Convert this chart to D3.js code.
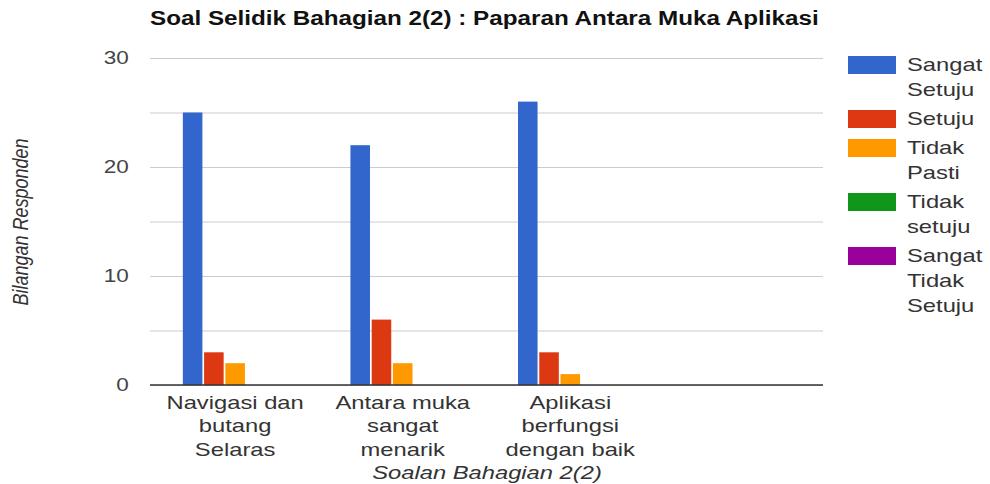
<!DOCTYPE html>
<html>
<head>
<meta charset="utf-8">
<script src="https://cdn.jsdelivr.net/npm/d3@7"></script>
<style>
  body { margin: 0; background: #fff; }
  text { font-family: "Liberation Sans", Arial, sans-serif; }
</style>
</head>
<body>
<svg width="990" height="484"></svg>
<script>
const categories = ['Navigasi dan butang Selaras', 'Antara muka sangat menarik', 'Aplikasi berfungsi dengan baik', ''];
const seriesNames = ['Sangat Setuju', 'Setuju', 'Tidak Pasti', 'Tidak setuju', 'Sangat Tidak Setuju'];
const sangatSetuju = [25, 22, 26, 0];
const setuju = [3, 6, 3, 0];
const tidakPasti = [2, 2, 1, 0];
const tidakSetuju = [0, 0, 0, 0];
const sangatTidakSetuju = [0, 0, 0, 0];
const gridTicks = [0, 5, 10, 15, 20, 25, 30];
const labelTicks = [0, 10, 20, 30];
const colors = ['#3366cc', '#dc3912', '#ff9900', '#109618', '#990099'];

const series = [sangatSetuju, setuju, tidakPasti, tidakSetuju, sangatTidakSetuju];
const SX = 1.25; // the picture is a bit wider than it is tall

const plotLeft = 150, plotRight = 823, plotTop = 58, plotBottom = 385;

const svg = d3.select('svg');

const yScale = d3.scaleLinear()
    .domain([0, 30])
    .range([plotBottom, plotTop]);

const xScale = d3.scaleBand()
    .domain(d3.range(categories.length))
    .range([plotLeft, plotRight])
    .paddingInner(0.376)
    .paddingOuter(0.196);

const xInner = d3.scaleBand()
    .domain(d3.range(seriesNames.length))
    .range([0, xScale.bandwidth()])
    .paddingInner(0.08);

// gridlines
svg.append('g')
    .attr('transform', `translate(${plotLeft}, 0)`)
    .call(d3.axisLeft(yScale)
        .tickValues(gridTicks)
        .tickSize(-(plotRight - plotLeft))
        .tickFormat(''))
    .call(g => g.select('.domain').remove())
    .call(g => g.selectAll('line').attr('stroke', '#cccccc'));

// tick labels
svg.append('g')
    .attr('transform', `translate(${plotLeft}, 0)`)
    .call(d3.axisLeft(yScale)
        .tickValues(labelTicks)
        .tickSize(0)
        .tickPadding(17))
    .call(g => g.select('.domain').remove())
    .call(g => g.selectAll('text')
        .attr('font-size', 18)
        .attr('font-family', '"Liberation Sans", Arial, sans-serif')
        .attr('fill', '#444')
        .attr('transform', `scale(${SX},1)`));

// bars
const rows = categories.map((c, i) => ({ i, values: series.map(s => s[i]) }));
const groups = svg.selectAll('g.grp')
    .data(rows)
    .enter()
    .append('g')
    .attr('class', 'grp')
    .attr('transform', d => `translate(${xScale(d.i)}, 0)`);

groups.selectAll('rect')
    .data(d => d.values.map((v, k) => ({ v, k })))
    .enter()
    .append('rect')
    .attr('x', d => xInner(d.k))
    .attr('y', d => yScale(d.v))
    .attr('width', xInner.bandwidth())
    .attr('height', d => plotBottom - yScale(d.v))
    .attr('fill', d => colors[d.k]);

// baseline
svg.append('line')
    .attr('x1', plotLeft).attr('x2', plotRight)
    .attr('y1', yScale(0)).attr('y2', yScale(0))
    .attr('stroke', '#333')
    .attr('stroke-width', 1.5);

// wraps words into lines no wider than maxW (screen px)
function wrap(str, maxW, size) {
    const probe = svg.append('text').attr('font-size', size);
    const lines = [];
    let cur = '';
    str.split(' ').forEach(w => {
        const test = cur ? cur + ' ' + w : w;
        probe.text(test);
        if (cur && probe.node().getComputedTextLength() * SX > maxW) {
            lines.push(cur);
            cur = w;
        } else {
            cur = test;
        }
    });
    if (cur) lines.push(cur);
    probe.remove();
    return lines;
}

// category labels
categories.forEach((c, i) => {
    if (!c) return;
    const lines = wrap(c, 140, 19);
    const cx = xScale(i) + xScale.bandwidth() / 2;
    lines.forEach((ln, j) => {
        svg.append('text')
            .attr('transform', `translate(${cx}, ${402 + j * 23.5}) scale(${SX},1)`)
            .attr('dy', '0.35em')
            .attr('text-anchor', 'middle')
            .attr('font-size', 19)
            .attr('fill', '#333')
            .text(ln);
    });
});

// title
svg.append('text')
    .attr('transform', `translate(${plotLeft}, 25) scale(${SX},1)`)
    .attr('font-size', 19.4)
    .attr('font-weight', 'bold')
    .attr('fill', '#111')
    .text('Soal Selidik Bahagian 2(2) : Paparan Antara Muka Aplikasi');

// axis titles
svg.append('text')
    .attr('transform', `translate(487, 472) scale(${SX},1)`)
    .attr('dy', '0.35em')
    .attr('text-anchor', 'middle')
    .attr('font-size', 19)
    .attr('font-style', 'italic')
    .attr('fill', '#333')
    .text('Soalan Bahagian 2(2)');

svg.append('text')
    .attr('transform', `translate(20, 222) scale(${SX},1) rotate(-90)`)
    .attr('dy', '0.35em')
    .attr('text-anchor', 'middle')
    .attr('font-size', 18)
    .attr('font-style', 'italic')
    .attr('fill', '#333')
    .text('Bilangan Responden');

// legend, one word per line
let ly = 64;
seriesNames.forEach((name, k) => {
    const words = name.split(' ');
    svg.append('rect')
        .attr('x', 848).attr('y', ly - 8)
        .attr('width', 48).attr('height', 18)
        .attr('fill', colors[k]);
    words.forEach((w, j) => {
        svg.append('text')
            .attr('transform', `translate(907, ${ly + j * 25}) scale(${SX},1)`)
            .attr('dy', '0.35em')
            .attr('font-size', 19)
            .attr('fill', '#333')
            .text(w);
    });
    ly += words.length * 25 + 4;
});
</script>
</body>
</html>
